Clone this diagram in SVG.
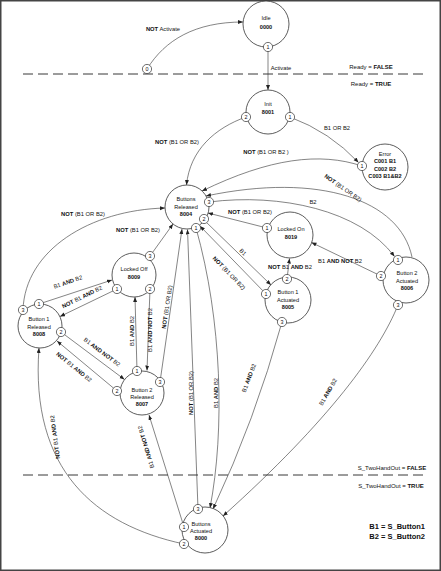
<svg xmlns="http://www.w3.org/2000/svg" width="441" height="571" viewBox="0 0 441 571">
<style>
text{font-family:"Liberation Sans",Arial,sans-serif;fill:#111}
.n{fill:#fff;stroke:#333;stroke-width:0.8}
.p{fill:#fff;stroke:#333;stroke-width:0.7}
.t{font-size:5.6px;text-anchor:middle}
.pt{font-size:5.4px;text-anchor:middle}
.b{font-weight:bold}
.c{fill:none;stroke:#333;stroke-width:0.6;marker-end:url(#a)}
.l{font-size:5.8px;text-anchor:middle}
.d{stroke:#222;stroke-width:0.9;stroke-dasharray:10 5}
.s{font-size:6px;text-anchor:middle}
.k{font-size:7.5px;font-weight:bold;text-anchor:end}
</style>
<defs>
<marker id="a" markerUnits="userSpaceOnUse" markerWidth="6" markerHeight="5" refX="5" refY="2" orient="auto"><path d="M0,0 L5,2 L0,4 z" fill="#222"/></marker>
</defs>
<rect x="0.75" y="0.75" width="439.5" height="569.5" fill="#fff" stroke="#444" stroke-width="1.5"/>
<g id="bands">
<line class="d" x1="23" y1="74" x2="423" y2="74"/>
<line class="d" x1="23" y1="475" x2="428" y2="475"/>
<text class="s" x="371" y="69">Ready = <tspan class="b">FALSE</tspan></text>
<text class="s" x="371" y="86">Ready = <tspan class="b">TRUE</tspan></text>
<text class="s" x="392" y="470">S_TwoHandOut = <tspan class="b">FALSE</tspan></text>
<text class="s" x="391" y="488">S_TwoHandOut = <tspan class="b">TRUE</tspan></text>
<text class="k" x="425" y="529">B1 = S_Button1</text>
<text class="k" x="425" y="538.5">B2 = S_Button2</text>
</g>
<g id="connectors">
<path class="c" d="M147,69 C165,40 195,22 243,22"/>
<path class="c" d="M268,47 L268,90"/>
<path class="c" d="M290,117 Q330,132 358.5,162.5"/>
<path class="c" d="M246,117 C215,128 190,150 186.5,185"/>
<path class="c" d="M362,166 C320,152 270,158 202,191"/>
<path class="c" d="M412,257 C400,200 320,172 206,196"/>
<path class="c" d="M209,202 C280,193 360,210 394.5,256.5"/>
<path class="c" d="M267,228 L208,213"/>
<path class="c" d="M205,221 L271,285"/>
<path class="c" d="M266,294 L200,226"/>
<path class="c" d="M287,279 L289.5,258.5"/>
<path class="c" d="M381,276 L311.5,242.5"/>
<path class="c" d="M282,322 Q255,420 213,509"/>
<path class="c" d="M398,305 C380,350 330,420 223,516"/>
<path class="c" d="M196,228 C222,320 225,430 210,508"/>
<path class="c" d="M198,509 L187.5,229.5"/>
<path class="c" d="M160,382 L182,229"/>
<path class="c" d="M150,256 L173,224"/>
<path class="c" d="M23,310 C25,250 90,210 165,208"/>
<path class="c" d="M39,304 L112,280"/>
<path class="c" d="M117,289 L60,316.5"/>
<path class="c" d="M61,332 L124.5,379.5"/>
<path class="c" d="M117,391 L57,341"/>
<path class="c" d="M184,544 C95,525 30,470 39,348"/>
<path class="c" d="M184,527 L149,415"/>
<path class="c" d="M150,289 L147,370.5"/>
<path class="c" d="M137,371 L135,297"/>
<text class="l" x="163" y="31"><tspan class="b">NOT</tspan> Activate</text>
<text class="l" x="281" y="70">Activate</text>
<text class="l" x="337" y="130">B1 OR B2</text>
<text class="l" x="177" y="144"><tspan class="b">NOT</tspan> (B1 OR B2)</text>
<text class="l" x="266" y="154"><tspan class="b">NOT</tspan> (B1 OR B2 )</text>
<text class="l" transform="translate(343,188) rotate(35)" y="2"><tspan class="b">NOT</tspan> (B1 OR B2)</text>
<text class="l" x="313" y="204">B2</text>
<text class="l" x="250" y="214"><tspan class="b">NOT</tspan> (B1 OR B2)</text>
<text class="l" transform="translate(243,252) rotate(45)" y="2">B1</text>
<text class="l" transform="translate(229,273) rotate(46)" y="2"><tspan class="b">NOT</tspan> (B1 OR B2)</text>
<text class="l" x="290" y="269"><tspan class="b">NOT</tspan> B1 <tspan class="b">AND</tspan> B2</text>
<text class="l" x="340" y="263">B1 <tspan class="b">AND NOT</tspan> B2</text>
<text class="l" transform="translate(249,378) rotate(-69)" y="2">B1 <tspan class="b">AND</tspan> B2</text>
<text class="l" transform="translate(328,392) rotate(-60)" y="2">B1 <tspan class="b">AND</tspan> B2</text>
<text class="l" transform="translate(216,393) rotate(-90)" y="2">B1 <tspan class="b">AND</tspan> B2</text>
<text class="l" transform="translate(191,393) rotate(-90)" y="2"><tspan class="b">NOT</tspan> (B1 OR B2)</text>
<text class="l" transform="translate(167,307) rotate(-81.5)" y="2"><tspan class="b">NOT</tspan> (B1 OR B2)</text>
<text class="l" x="138" y="232"><tspan class="b">NOT</tspan> (B1 OR B2)</text>
<text class="l" x="83" y="216"><tspan class="b">NOT</tspan> (B1 OR B2)</text>
<text class="l" transform="translate(68,282) rotate(-18.7)" y="2">B1 <tspan class="b">AND</tspan> B2</text>
<text class="l" transform="translate(82,297) rotate(-26)" y="2"><tspan class="b">NOT</tspan> B1 <tspan class="b">AND</tspan> B2</text>
<text class="l" transform="translate(102,352) rotate(37)" y="2">B1 <tspan class="b">AND NOT</tspan> B2</text>
<text class="l" transform="translate(74,367) rotate(39)" y="2"><tspan class="b">NOT</tspan> B1 <tspan class="b">AND</tspan> B2</text>
<text class="l" transform="translate(55,437) rotate(-98)" y="2"><tspan class="b">NOT</tspan> B1 <tspan class="b">AND</tspan> B2</text>
<text class="l" transform="translate(146,447) rotate(-106.6)" y="2">B1 <tspan class="b">AND NOT</tspan> B2</text>
<text class="l" transform="translate(150,330) rotate(-90)" y="2">B1 <tspan class="b">AND NOT</tspan> B2</text>
<text class="l" transform="translate(132,331) rotate(-90)" y="2">B1 <tspan class="b">AND</tspan> B2</text>
</g>
<g id="idle">
<circle class="n" cx="266" cy="24" r="23"/>
<text class="t" x="266" y="20">Idle</text>
<text class="t b" x="266" y="29">0000</text>
<circle class="p" cx="268" cy="47" r="4.6"/><text class="pt" x="268" y="49">1</text>
<circle class="p" cx="147" cy="69" r="4.6"/><text class="pt" x="147" y="71">0</text>
</g>
<g id="init">
<circle class="n" cx="268" cy="112" r="22"/>
<text class="t" x="268" y="106">Init</text>
<text class="t b" x="268" y="114">8001</text>
<circle class="p" cx="246" cy="117" r="4.6"/><text class="pt" x="246" y="119">2</text>
<circle class="p" cx="290" cy="117" r="4.6"/><text class="pt" x="290" y="119">1</text>
</g>
<g id="error">
<circle class="n" cx="385" cy="167" r="23"/>
<text class="t" x="385" y="156">Error</text>
<text class="t b" x="385" y="163">C001 B1</text>
<text class="t b" x="385" y="170.5">C002 B2</text>
<text class="t b" x="385" y="178">C003 B1&amp;B2</text>
<circle class="p" cx="362" cy="166" r="4.6"/><text class="pt" x="362" y="168">1</text>
</g>
<g id="buttons-released">
<circle class="n" cx="187" cy="207" r="22"/>
<text class="t" x="186" y="201">Buttons</text>
<text class="t" x="186" y="209">Released</text>
<text class="t b" x="186" y="216">8004</text>
<circle class="p" cx="209" cy="202" r="4.6"/><text class="pt" x="209" y="204">3</text>
<circle class="p" cx="204" cy="219" r="4.6"/><text class="pt" x="204" y="221">2</text>
<circle class="p" cx="196" cy="228" r="4.6"/><text class="pt" x="196" y="230">1</text>
</g>
<g id="locked-on">
<circle class="n" cx="290" cy="235" r="23"/>
<text class="t" x="291" y="231">Locked On</text>
<text class="t b" x="291" y="239">8019</text>
<circle class="p" cx="267" cy="228" r="4.6"/><text class="pt" x="267" y="230">1</text>
</g>
<g id="button1-actuated">
<circle class="n" cx="288" cy="300" r="23"/>
<text class="t" x="288" y="294">Button 1</text>
<text class="t" x="288" y="302">Actuated</text>
<text class="t b" x="288" y="309">8005</text>
<circle class="p" cx="266" cy="294" r="4.6"/><text class="pt" x="266" y="296">1</text>
<circle class="p" cx="287" cy="279" r="4.6"/><text class="pt" x="287" y="281">2</text>
<circle class="p" cx="282" cy="322" r="4.6"/><text class="pt" x="282" y="324">3</text>
</g>
<g id="button2-actuated">
<circle class="n" cx="406" cy="280" r="23"/>
<text class="t" x="407" y="275">Button 2</text>
<text class="t" x="407" y="283">Actuated</text>
<text class="t b" x="407" y="290">8006</text>
<circle class="p" cx="398" cy="260" r="4.6"/><text class="pt" x="398" y="262">1</text>
<circle class="p" cx="381" cy="276" r="4.6"/><text class="pt" x="381" y="278">2</text>
<circle class="p" cx="398" cy="305" r="4.6"/><text class="pt" x="398" y="307">3</text>
</g>
<g id="locked-off">
<circle class="n" cx="134" cy="275" r="22"/>
<text class="t" x="134" y="271">Locked Off</text>
<text class="t b" x="134" y="279">8009</text>
<circle class="p" cx="150" cy="256" r="4.6"/><text class="pt" x="150" y="258">3</text>
<circle class="p" cx="117" cy="289" r="4.6"/><text class="pt" x="117" y="291">1</text>
<circle class="p" cx="150" cy="289" r="4.6"/><text class="pt" x="150" y="291">2</text>
</g>
<g id="button1-released">
<circle class="n" cx="40" cy="326" r="22"/>
<text class="t" x="39" y="321">Button 1</text>
<text class="t" x="39" y="329">Released</text>
<text class="t b" x="39" y="336">8008</text>
<circle class="p" cx="23" cy="310" r="4.6"/><text class="pt" x="23" y="312">3</text>
<circle class="p" cx="39" cy="304" r="4.6"/><text class="pt" x="39" y="306">1</text>
<circle class="p" cx="61" cy="332" r="4.6"/><text class="pt" x="61" y="334">2</text>
</g>
<g id="button2-released">
<circle class="n" cx="142" cy="393" r="22"/>
<text class="t" x="142" y="392">Button 2</text>
<text class="t" x="142" y="399">Released</text>
<text class="t b" x="142" y="406">8007</text>
<circle class="p" cx="137" cy="371" r="4.6"/><text class="pt" x="137" y="373">1</text>
<circle class="p" cx="117" cy="391" r="4.6"/><text class="pt" x="117" y="393">2</text>
<circle class="p" cx="160" cy="382" r="4.6"/><text class="pt" x="160" y="384">3</text>
</g>
<g id="buttons-actuated">
<circle class="n" cx="205" cy="530" r="23"/>
<text class="t" x="201" y="526">Buttons</text>
<text class="t" x="201" y="533">Actuated</text>
<text class="t b" x="201" y="540">8000</text>
<circle class="p" cx="198" cy="509" r="4.6"/><text class="pt" x="198" y="511">3</text>
<circle class="p" cx="184" cy="527" r="4.6"/><text class="pt" x="184" y="529">1</text>
<circle class="p" cx="184" cy="544" r="4.6"/><text class="pt" x="184" y="546">2</text>
</g>
</svg>
